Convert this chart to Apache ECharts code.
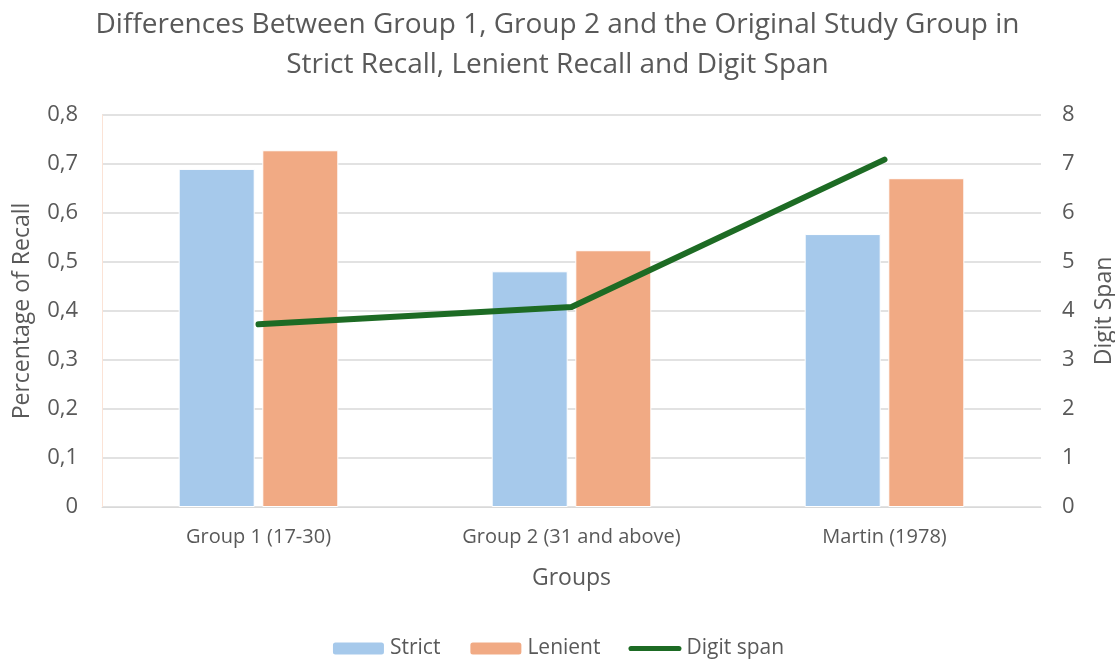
<!DOCTYPE html>
<html>
<head>
<meta charset="utf-8">
<script src="https://cdn.jsdelivr.net/npm/echarts@6/dist/echarts.min.js"></script>
<style>
    html, body { margin: 0; padding: 0; background: #fff; }
    #chart { width: 1115px; height: 668px; }
</style>
</head>
<body>
<div id="chart"></div>
<script>
    // data
    let groups = ['Group 1 (17-30)', 'Group 2 (31 and above)', 'Martin (1978)'];
    let strict = [0.690, 0.481, 0.557];
    let lenient = [0.728, 0.524, 0.671];
    let digitSpan = [3.73, 4.08, 7.09];

    let font = 'Open Sans';
    let grey = '#595959';
    let comma = v => String(v).replace('.', ',');

    let myChart = echarts.init(document.getElementById('chart'));
    let option = {
        backgroundColor: '#fff',
        textStyle: { fontFamily: font },
        title: {
            text: 'Differences Between Group 1, Group 2 and the Original Study Group in\nStrict Recall, Lenient Recall and Digit Span',
            left: 'center',
            top: 0,
            textStyle: { fontFamily: font, fontSize: 28, fontWeight: 'normal', color: grey, lineHeight: 40 }
        },
        legend: {
            bottom: 4,
            left: 'center',
            itemWidth: 53,
            itemHeight: 14,
            itemGap: 28,
            textStyle: { fontFamily: font, fontSize: 21, color: grey },
            data: ['Strict', 'Lenient', {
                name: 'Digit span',
                // rounded bar, like a thick line with round caps
                icon: 'path://M3,0 H59 A3,3 0 0 1 59,6 H3 A3,3 0 0 1 3,0 Z',
                itemStyle: { color: '#1d6b24' }
            }]
        },
        grid: { left: 102, right: 74, top: 115, bottom: 161, outerBoundsMode: 'none' },
        xAxis: {
            type: 'category',
            data: groups,
            name: 'Groups',
            nameLocation: 'middle',
            nameGap: 60,
            nameTextStyle: { fontSize: 23, color: grey },
            axisTick: { show: false },
            axisLine: { lineStyle: { color: '#d9d9d9' } },
            axisLabel: { fontSize: 20, color: grey, margin: 20 }
        },
        yAxis: [{
            type: 'value',
            min: 0, max: 0.8, interval: 0.1,
            name: 'Percentage of Recall',
            nameLocation: 'middle',
            nameGap: 68,
            nameTextStyle: { fontSize: 23, color: grey },
            axisLine: { show: true, lineStyle: { color: '#fbe3d6' } },
            axisLabel: { fontSize: 22, color: grey, margin: 24, formatter: v => comma(+v.toFixed(1)) },
            splitLine: { lineStyle: { color: '#d9d9d9', width: 1.5 } }
        }, {
            type: 'value',
            min: 0, max: 8, interval: 1,
            name: 'Digit Span',
            nameLocation: 'middle',
            nameGap: 52,
            nameTextStyle: { fontSize: 23, color: grey },
            axisLine: { show: false },
            axisLabel: { fontSize: 22, color: grey, margin: 21 },
            splitLine: { show: false }
        }],
        series: [{
            name: 'Strict',
            type: 'bar',
            data: strict,
            barGap: '10%',
            barCategoryGap: '49%',
            itemStyle: { color: '#a6c9eb', borderColor: '#fff', borderWidth: 1 }
        }, {
            name: 'Lenient',
            type: 'bar',
            data: lenient,
            itemStyle: { color: '#f1aa84', borderColor: '#fff', borderWidth: 1 }
        }, {
            name: 'Digit span',
            type: 'line',
            yAxisIndex: 1,
            data: digitSpan,
            symbol: 'none',
            lineStyle: { color: '#1d6b24', width: 6, cap: 'round', join: 'round' },
            itemStyle: { color: '#1d6b24' }
        }]
    };
    myChart.setOption(option);
</script>
</body>
</html>
